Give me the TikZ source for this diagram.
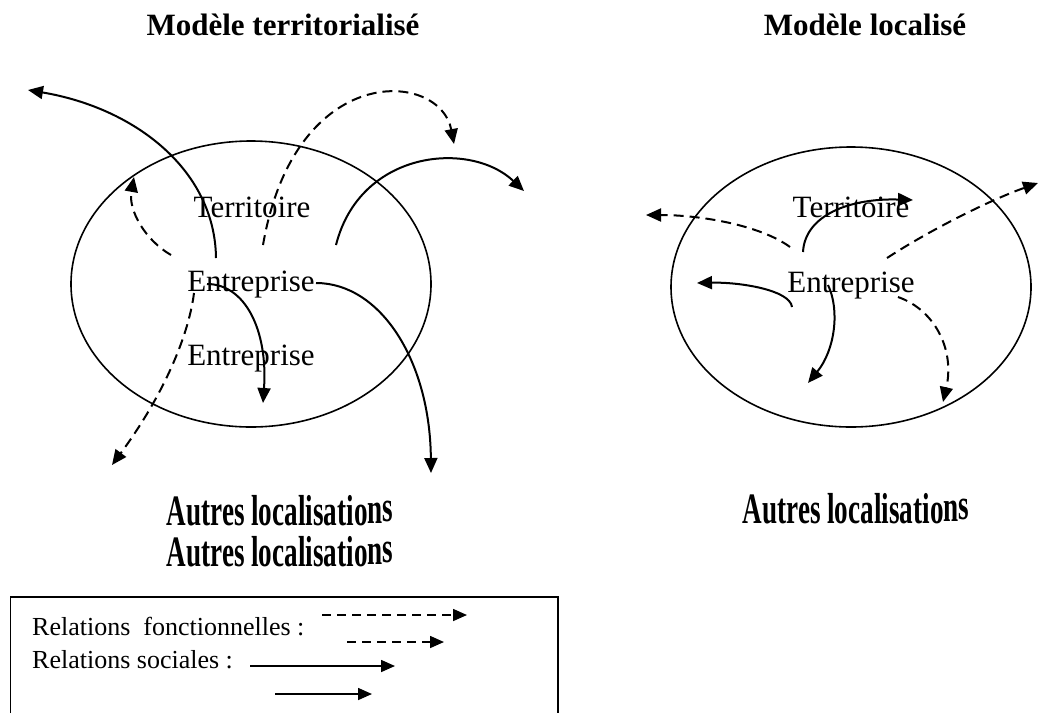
\documentclass[tikz,border=0pt]{standalone}
\usepackage{fontspec}
\setmainfont{Liberation Serif}
\usetikzlibrary{arrows.meta,shapes.geometric}
\newcommand{\autresloc}{\scalebox{0.97}[1.55]{Autres localisatio\raisebox{1.5pt}{n}\raisebox{3pt}{s}}}
\begin{document}
\begin{tikzpicture}[x=1pt,y=-1pt,
  rel/.style={line width=2pt, -{Triangle[length=15pt,width=13pt]}},
  fonc/.style={rel, dash pattern=on 10pt off 6pt},
  soc/.style={rel},
  legrel/.style={line width=1.6pt, -{Triangle[length=14pt,width=12pt]}},
  legfonc/.style={legrel, dash pattern=on 9pt off 6pt},
  lbl/.style={anchor=base, inner sep=0pt, font=\fontsize{31}{31}\selectfont},
  titre/.style={anchor=base, inner sep=0pt, font=\fontsize{31}{31}\selectfont\bfseries},
  autres/.style={inner sep=0pt, font=\fontsize{28}{28}\selectfont\bfseries},
  legtxt/.style={anchor=base west, inner sep=0pt, font=\fontsize{26}{26}\selectfont},
  zone/.style={draw, ellipse, line width=1.6pt, inner sep=0pt, minimum width=360pt}]
\useasboundingbox (0,0) rectangle (1038,713);

% titles
\node[titre] (tl) at (283,35) {Modèle territorialisé};
\node[titre] (tr) at (865,35) {Modèle localisé};

% ellipses
\node[zone, minimum height=286pt] (zl) at (251,284) {};
\node[zone, minimum height=280pt] (zr) at (851,287) {};

% labels
\node[lbl] (terl) at (252,217) {Territoire};
\node[lbl] (ent1) at (251,291) {Entreprise};
\node[lbl] (ent2) at (251,365) {Entreprise};
\node[lbl] (terr) at (851,217) {Territoire};
\node[lbl] (entr) at (851,292) {Entreprise};

% left model: endpoints
\coordinate (a1s) at (216,258); \coordinate (a1e) at (28,90);
\coordinate (a2s) at (263,245); \coordinate (a2e) at (454,144);
\coordinate (a3s) at (336,245); \coordinate (a3e) at (524,191);
\coordinate (a4s) at (171,255); \coordinate (a4e) at (134,177);
\coordinate (a5s) at (207,284); \coordinate (a5e) at (263,403);
\coordinate (a6s) at (316,283); \coordinate (a6e) at (431,473);
\coordinate (a7s) at (194,293); \coordinate (a7e) at (112,465);

\draw[soc]  (a1s) .. controls (215,170) and (135,108) .. (a1e);
\draw[fonc] (a2s) .. controls (295,60) and (440,70) .. (a2e);
\draw[soc]  (a3s) .. controls (360,150) and (470,140) .. (a3e);
\draw[fonc] (a4s) .. controls (145,240) and (128,210) .. (a4e);
\draw[soc]  (a5s) .. controls (245,284) and (268,330) .. (a5e);
\draw[soc]  (a6s) .. controls (380,283) and (430,360) .. (a6e);
\draw[fonc] (a7s) .. controls (188,340) and (160,400) .. (a7e);

% right model: endpoints
\coordinate (b1s) at (790,247); \coordinate (b1e) at (646,215);
\coordinate (b2s) at (803,252); \coordinate (b2e) at (913,200);
\coordinate (b3s) at (887,258); \coordinate (b3e) at (1038,183);
\coordinate (b4s) at (792,307); \coordinate (b4e) at (697,283);
\coordinate (b5s) at (828,285); \coordinate (b5e) at (808,383);
\coordinate (b6s) at (898,297); \coordinate (b6e) at (943,402);

\draw[fonc] (b1s) .. controls (760,225) and (700,215) .. (b1e);
\draw[soc]  (b2s) .. controls (805,215) and (850,198) .. (b2e);
\draw[fonc] (b3s) .. controls (930,230) and (990,200) .. (b3e);
\draw[soc]  (b4s) .. controls (790,290) and (740,282) .. (b4e);
\draw[soc]  (b5s) .. controls (840,310) and (835,350) .. (b5e);
\draw[fonc] (b6s) .. controls (935,310) and (955,350) .. (b6e);

% other locations
\node[autres] (al1) at (280,511) {\autresloc};
\node[autres] (al2) at (280,552) {\autresloc};
\node[autres] (ar1) at (856,509) {\autresloc};

% legend
\draw[line width=1.5pt] (10.5,713) -- (10.5,597) -- (558,597) -- (558,713);
\node[legtxt] (lf) at (32,635) {Relations~~fonctionnelles :};
\node[legtxt] (ls) at (32,668) {Relations sociales :};
\coordinate (f1s) at (322,615); \coordinate (f1e) at (467,615);
\coordinate (f2s) at (347,642); \coordinate (f2e) at (444,642);
\coordinate (s1s) at (250,666); \coordinate (s1e) at (395,666);
\coordinate (s2s) at (275,694); \coordinate (s2e) at (372,694);
\draw[legfonc] (f1s) -- (f1e);
\draw[legfonc] (f2s) -- (f2e);
\draw[legrel] (s1s) -- (s1e);
\draw[legrel] (s2s) -- (s2e);
\end{tikzpicture}
\end{document}
